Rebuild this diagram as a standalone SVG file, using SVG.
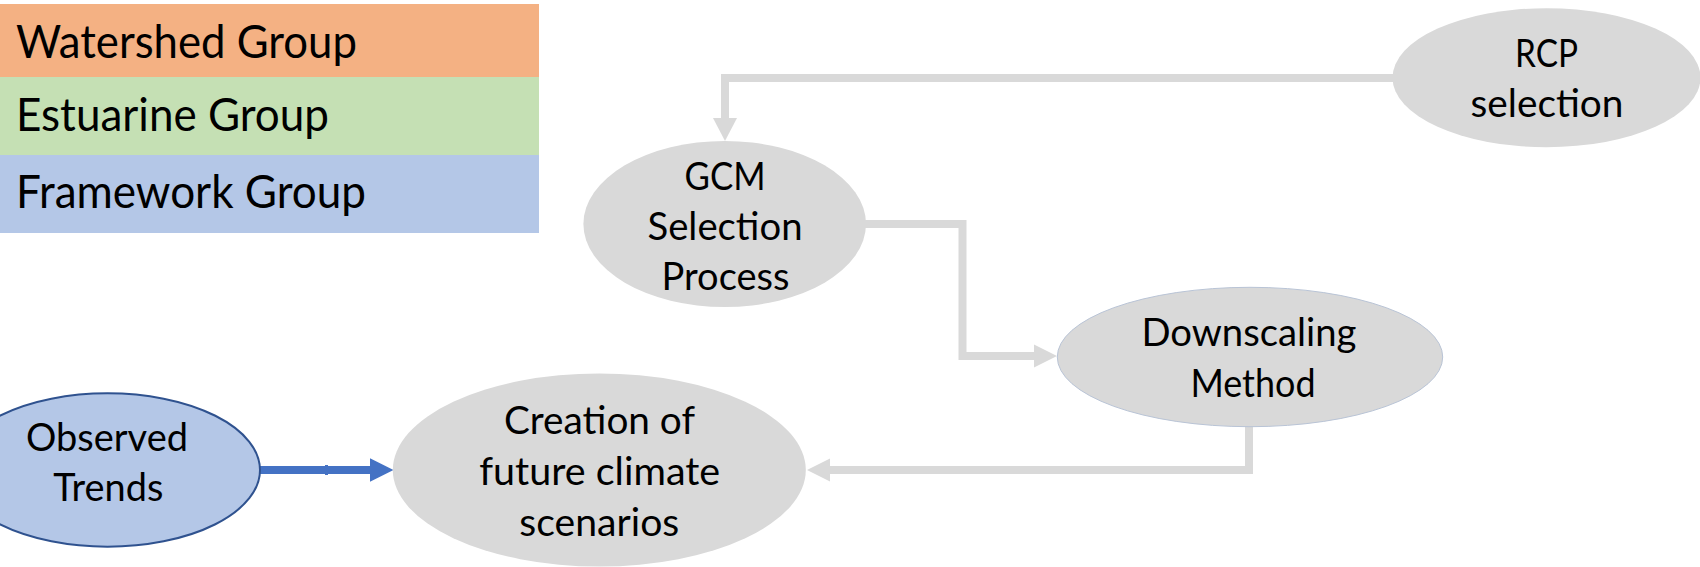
<svg xmlns="http://www.w3.org/2000/svg" width="1700" height="567" viewBox="0 0 1700 567">
  <defs>
    <style>
      .legend-text { font-family: "Lato", "Liberation Sans", sans-serif; font-size: 47px; fill: #000; }
      .node-text { font-family: "Lato", "Liberation Sans", sans-serif; font-size: 38px; fill: #000; text-anchor: middle; }
      .gray-node { fill: #D9D9D9; }
      .gray-link { fill: none; stroke: #D9D9D9; stroke-width: 8; stroke-linejoin: miter; }
      .gray-head { fill: #D9D9D9; }
      .blue-link { fill: none; stroke: #4472C4; stroke-width: 8; }
      .blue-head { fill: #4472C4; }
    </style>
  </defs>

  <rect width="1700" height="567" fill="#FFFFFF"/>

  <!-- Legend -->
  <g id="legend">
    <rect x="0" y="4" width="539" height="73" fill="#F4B183"/>
    <rect x="0" y="77" width="539" height="78" fill="#C5E0B4"/>
    <rect x="0" y="155" width="539" height="78" fill="#B4C7E7"/>
    <text class="legend-text" x="16" y="58" textLength="341" lengthAdjust="spacingAndGlyphs">Watershed Group</text>
    <text class="legend-text" x="16" y="131" textLength="313" lengthAdjust="spacingAndGlyphs">Estuarine Group</text>
    <text class="legend-text" x="16" y="208" textLength="350" lengthAdjust="spacingAndGlyphs">Framework Group</text>
  </g>

  <!-- Connectors -->
  <g id="connectors">
    <!-- RCP selection -> GCM Selection Process -->
    <path class="gray-link" d="M1394,78 H725 V119"/>
    <polygon class="gray-head" points="713,118 737,118 725,141"/>
    <!-- GCM Selection Process -> Downscaling Method -->
    <path class="gray-link" d="M864,224 H962.5 V356 H1035"/>
    <polygon class="gray-head" points="1034,344.5 1034,367.5 1057,356"/>
    <!-- Downscaling Method -> Creation of future climate scenarios -->
    <path class="gray-link" d="M1249,425 V470 H829"/>
    <polygon class="gray-head" points="830,458.5 830,481.5 807,470"/>
    <!-- Observed Trends -> Creation of future climate scenarios -->
    <path class="blue-link" d="M259,470 H371"/>
    <rect x="325" y="465" width="3" height="10" fill="#4472C4"/>
    <polygon class="blue-head" points="370,458.3 370,481.7 393.5,470"/>
  </g>

  <!-- Nodes -->
  <g id="node-rcp">
    <ellipse class="gray-node" cx="1546.5" cy="77.7" rx="154" ry="69.5"/>
    <text class="node-text" x="1546.5" y="66.7" textLength="63" lengthAdjust="spacingAndGlyphs">RCP</text>
    <text class="node-text" x="1547" y="117.3" textLength="153" lengthAdjust="spacingAndGlyphs">selection</text>
  </g>

  <g id="node-gcm">
    <ellipse class="gray-node" cx="724.7" cy="224" rx="141.3" ry="83"/>
    <text class="node-text" x="725" y="189.5" textLength="81" lengthAdjust="spacingAndGlyphs">GCM</text>
    <text class="node-text" x="725" y="240" textLength="155" lengthAdjust="spacingAndGlyphs">Selection</text>
    <text class="node-text" x="725.5" y="290" textLength="128" lengthAdjust="spacingAndGlyphs">Process</text>
  </g>

  <g id="node-downscaling">
    <ellipse class="gray-node" cx="1250" cy="357" rx="192.7" ry="69.7" stroke="#B9C4D6" stroke-width="1"/>
    <text class="node-text" x="1249" y="345.5" textLength="215" lengthAdjust="spacingAndGlyphs">Downscaling</text>
    <text class="node-text" x="1253" y="397" textLength="125" lengthAdjust="spacingAndGlyphs">Method</text>
  </g>

  <g id="node-creation">
    <ellipse class="gray-node" cx="599.3" cy="470" rx="206.5" ry="96.5"/>
    <text class="node-text" x="599.5" y="434" textLength="191" lengthAdjust="spacingAndGlyphs">Creation of</text>
    <text class="node-text" x="599.7" y="485" textLength="241" lengthAdjust="spacingAndGlyphs">future climate</text>
    <text class="node-text" x="599.3" y="535.7" textLength="160" lengthAdjust="spacingAndGlyphs">scenarios</text>
  </g>

  <g id="node-observed">
    <ellipse cx="107.5" cy="470" rx="152.5" ry="76.7" fill="#B4C7E7" stroke="#2F528F" stroke-width="2"/>
    <text class="node-text" x="107" y="451" textLength="162" lengthAdjust="spacingAndGlyphs">Observed</text>
    <text class="node-text" x="108.3" y="501" textLength="110" lengthAdjust="spacingAndGlyphs">Trends</text>
  </g>
</svg>
